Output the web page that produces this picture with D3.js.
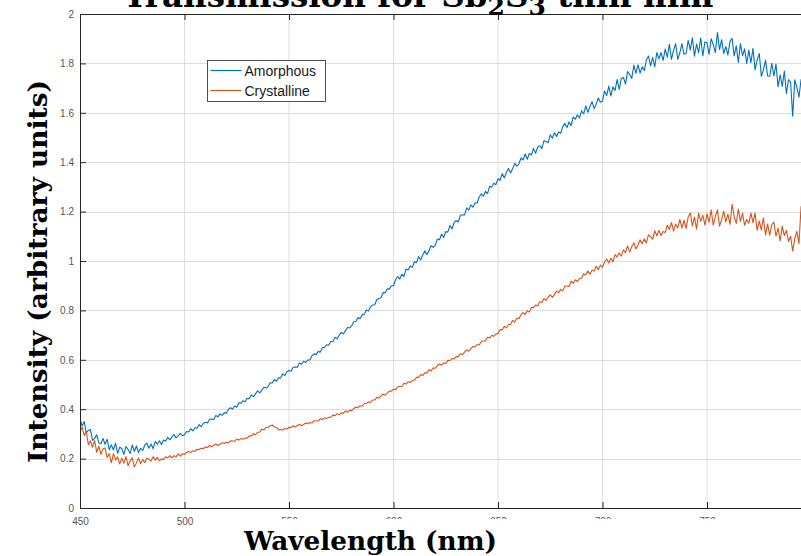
<!DOCTYPE html>
<html>
<head>
<meta charset="utf-8">
<script src="https://cdn.jsdelivr.net/npm/d3@7"></script>
<style>
    body { margin: 0; background: #fff; }
</style>
</head>
<body>
<script>
// wavelength grid of the samples (nm), one row = 10 nm
const wlStart = 450;
const wlStep = 1;

const amorphous = [
    .362, .332, .35, .304, .314, .318, .274, .282, .296, .264,
    .26, .282, .258, .278, .236, .256, .235, .262, .221, .246,
    .241, .217, .249, .237, .221, .255, .229, .251, .225, .241,
    .233, .255, .263, .242, .259, .24, .27, .258, .272, .257,
    .275, .271, .286, .276, .288, .297, .284, .292, .302, .293,
    .297, .310, .308, .321, .312, .325, .323, .338, .329, .343,
    .347, .344, .359, .360, .358, .375, .369, .381, .375, .385,
    .384, .399, .406, .401, .413, .408, .426, .424, .434, .43,
    .444, .443, .458, .451, .463, .474, .466, .477, .489, .486,
    .492, .507, .506, .52, .513, .527, .527, .543, .536, .552,
    .557, .554, .57, .571, .57, .587, .582, .594, .589, .599,
    .599, .616, .624, .621, .634, .631, .65, .65, .661, .659,
    .674, .674, .691, .685, .699, .711, .705, .717, .731, .729,
    .737, .754, .755, .771, .766, .782, .784, .802, .797, .815,
    .822, .823, .843, .848, .851, .872, .871, .887, .886, .90,
    .90, .924, .937, .927, .947, .938, .968, .964, .98, .974,
    .997, .993, 1.018, 1.004, 1.024, 1.041, 1.026, 1.042, 1.062, 1.055,
    1.064, 1.089, 1.086, 1.109, 1.095, 1.119, 1.117, 1.144, 1.13, 1.156,
    1.164, 1.158, 1.185, 1.187, 1.186, 1.215, 1.206, 1.227, 1.218, 1.235,
    1.235, 1.259, 1.272, 1.262, 1.282, 1.273, 1.303, 1.299, 1.315, 1.309,
    1.333, 1.327, 1.354, 1.336, 1.358, 1.375, 1.356, 1.373, 1.395, 1.384,
    1.393, 1.417, 1.409, 1.433, 1.412, 1.435, 1.429, 1.456, 1.436, 1.462,
    1.467, 1.455, 1.487, 1.484, 1.479, 1.511, 1.497, 1.519, 1.504, 1.522,
    1.517, 1.545, 1.557, 1.54, 1.563, 1.548, 1.583, 1.574, 1.592, 1.579,
    1.608, 1.596, 1.628, 1.602, 1.626, 1.645, 1.617, 1.636, 1.66, 1.643,
    1.648, 1.688, 1.67, 1.708, 1.668, 1.705, 1.69, 1.735, 1.695, 1.738,
    1.743, 1.716, 1.767, 1.756, 1.739, 1.793, 1.76, 1.794, 1.761, 1.786,
    1.771, 1.814, 1.83, 1.79, 1.824, 1.786, 1.844, 1.818, 1.844, 1.812,
    1.858, 1.825, 1.877, 1.816, 1.853, 1.88, 1.816, 1.843, 1.88, 1.837,
    1.84, 1.893, 1.854, 1.904, 1.829, 1.878, 1.843, 1.904, 1.83, 1.887,
    1.884, 1.836, 1.90, 1.876, 1.844, 1.925, 1.856, 1.896, 1.84, 1.868,
    1.834, 1.889, 1.902, 1.83, 1.871, 1.804, 1.88, 1.831, 1.859, 1.80,
    1.854, 1.803, 1.861, 1.774, 1.813, 1.84, 1.748, 1.774, 1.813, 1.749,
    1.748, 1.80, 1.749, 1.797, 1.706, 1.754, 1.707, 1.769, 1.677, 1.734,
    1.724, 1.586, 1.734, 1.703, 1.663, 1.735, 1.668, 1.709, 1.642, 1.67
];

const crystalline = [
    .309, .327, .294, .309, .256, .272, .246, .273, .225, .25,
    .217, .24, .243, .204, .22, .183, .22, .195, .207, .178,
    .202, .181, .208, .171, .19, .203, .166, .182, .203, .179,
    .195, .184, .201, .197, .19, .208, .194, .205, .191, .199,
    .197, .207, .203, .212, .203, .212, .208, .219, .21, .22,
    .217, .225, .229, .225, .232, .229, .238, .237, .242, .24,
    .247, .245, .253, .248, .254, .259, .253, .258, .264, .261,
    .266, .263, .272, .271, .27, .279, .275, .281, .278, .283,
    .283, .292, .292, .301, .297, .306, .308, .319, .316, .327,
    .327, .333, .336, .328, .327, .316, .318, .316, .322, .319,
    .327, .325, .333, .328, .334, .339, .333, .338, .344, .341,
    .346, .344, .353, .353, .352, .362, .358, .365, .362, .367,
    .368, .376, .374, .382, .377, .385, .384, .393, .388, .396,
    .394, .403, .409, .406, .414, .412, .423, .423, .429, .428,
    .437, .437, .448, .445, .454, .461, .457, .465, .473, .473,
    .481, .479, .491, .492, .492, .505, .502, .511, .508, .516,
    .518, .529, .529, .54, .536, .547, .547, .56, .555, .567,
    .566, .577, .583, .579, .588, .585, .598, .597, .605, .603,
    .613, .613, .625, .621, .631, .64, .635, .644, .654, .652,
    .662, .66, .674, .676, .676, .691, .688, .699, .695, .704,
    .707, .722, .721, .736, .729, .743, .743, .759, .753, .769,
    .766, .782, .791, .784, .798, .793, .813, .811, .822, .818,
    .835, .832, .848, .84, .853, .863, .853, .864, .878, .872,
    .885, .879, .899, .899, .897, .918, .91, .924, .917, .929,
    .93, .948, .943, .96, .946, .963, .959, .979, .965, .984,
    .974, .997, 1.008, .992, 1.011, .996, 1.026, 1.017, 1.032, 1.02,
    1.045, 1.034, 1.061, 1.037, 1.058, 1.074, 1.049, 1.065, 1.086, 1.07,
    1.09, 1.073, 1.106, 1.099, 1.088, 1.123, 1.102, 1.124, 1.103, 1.119,
    1.115, 1.145, 1.128, 1.156, 1.121, 1.149, 1.134, 1.168, 1.133, 1.165,
    1.132, 1.179, 1.194, 1.142, 1.178, 1.13, 1.194, 1.16, 1.186, 1.145,
    1.191, 1.157, 1.207, 1.145, 1.181, 1.207, 1.141, 1.167, 1.202, 1.158,
    1.19, 1.148, 1.23, 1.181, 1.152, 1.21, 1.16, 1.194, 1.144, 1.168,
    1.153, 1.194, 1.155, 1.194, 1.124, 1.162, 1.126, 1.175, 1.105, 1.15,
    1.104, 1.147, 1.158, 1.101, 1.133, 1.081, 1.141, 1.103, 1.124, 1.079,
    1.10, 1.04, 1.09, 1.12, 1.07, 1.22, 1.11, 1.13, 1.10, 1.12
];

const seriesNames = ["Amorphous", "Crystalline"];
const seriesColors = ["#0072BD", "#D95319"];
const xTicks = [450, 500, 550, 600, 650, 700, 750];
const yTicks = [0, 0.2, 0.4, 0.6, 0.8, 1, 1.2, 1.4, 1.6, 1.8, 2];

const width = 801;
const height = 556;
const marginLeft = 80;
const marginTop = 14;
const plotBottom = 508;

const x = d3.scaleLinear()
    .domain([450, 800])
    .range([marginLeft, 811.5]);

const y = d3.scaleLinear()
    .domain([0, 2])
    .range([plotBottom, marginTop]);

const svg = d3.create("svg")
    .attr("width", width)
    .attr("height", height)
    .attr("viewBox", `0 0 ${width} ${height}`)
    .style("font-family", "'Liberation Sans', Arial, sans-serif");

svg.append("defs").append("clipPath")
    .attr("id", "plotclip")
    .append("rect")
    .attr("x", marginLeft)
    .attr("y", marginTop)
    .attr("width", x(800) - marginLeft)
    .attr("height", plotBottom - marginTop);

// grid
svg.append("g")
    .selectAll("line")
    .data(xTicks.slice(1))
    .join("line")
    .attr("x1", d => x(d)).attr("x2", d => x(d))
    .attr("y1", marginTop).attr("y2", plotBottom)
    .attr("stroke", "#dedede")
    .attr("stroke-width", 1);

svg.append("g")
    .selectAll("line")
    .data(yTicks.slice(1, -1))
    .join("line")
    .attr("x1", marginLeft).attr("x2", width)
    .attr("y1", d => Math.round(y(d)) + 0.5).attr("y2", d => Math.round(y(d)) + 0.5)
    .attr("stroke", "#dedede")
    .attr("stroke-width", 1);

// curves
const line = d3.line()
    .x((d, i) => x(wlStart + i * wlStep))
    .y(d => y(d));

const plot = svg.append("g").attr("clip-path", "url(#plotclip)");

[amorphous, crystalline].forEach((vals, k) => {
    plot.append("path")
        .datum(vals)
        .attr("fill", "none")
        .attr("stroke", seriesColors[k])
        .attr("stroke-width", 1.1)
        .attr("stroke-linejoin", "round")
        .attr("d", line);
});

// axes (MATLAB box style, ticks inside)
const axisColor = "#262626";
const labelColor = "#555";

const axBottom = svg.append("g")
    .attr("transform", `translate(0,${plotBottom})`)
    .call(d3.axisBottom(x).tickValues(xTicks).tickSizeInner(-6).tickSizeOuter(0).tickPadding(10));
const axTop = svg.append("g")
    .attr("transform", `translate(0,${marginTop})`)
    .call(d3.axisTop(x).tickValues(xTicks).tickSizeInner(-6).tickSizeOuter(0).tickFormat(""));
const axLeft = svg.append("g")
    .attr("transform", `translate(${marginLeft},0)`)
    .call(d3.axisLeft(y).tickValues(yTicks).tickSizeInner(-6).tickSizeOuter(0).tickPadding(6).tickFormat(d3.format("~g")));

[axBottom, axTop, axLeft].forEach(g => {
    g.select(".domain").attr("stroke", axisColor);
    g.selectAll(".tick line").attr("stroke", axisColor);
    g.selectAll(".tick text")
        .attr("fill", labelColor)
        .style("font-size", "10px")
        .style("font-family", "'Liberation Sans', Arial, sans-serif");
});
axBottom.select(".domain").attr("d", `M${marginLeft},0.5H${width}`);
axTop.select(".domain").attr("d", `M${marginLeft},0.5H${width}`);

// legend
const legend = svg.append("g").attr("transform", "translate(207.5,60.5)");
legend.append("rect")
    .attr("width", 118)
    .attr("height", 41)
    .attr("fill", "#fff")
    .attr("stroke", axisColor)
    .attr("stroke-width", 0.8);
seriesNames.forEach((name, i) => {
    legend.append("line")
        .attr("x1", 3).attr("x2", 34)
        .attr("y1", 10 + i * 20).attr("y2", 10 + i * 20)
        .attr("stroke", seriesColors[i])
        .attr("stroke-width", 1.2);
    legend.append("text")
        .attr("x", 37)
        .attr("y", 15 + i * 20)
        .attr("fill", "#1a1a1a")
        .style("font-size", "14px")
        .text(name);
});

// x label box hides the lower part of the tick labels
svg.append("rect")
    .attr("x", 238)
    .attr("y", 519)
    .attr("width", width - 238)
    .attr("height", height - 519)
    .attr("fill", "#fff");

const serif = "'DejaVu Serif', 'Liberation Serif', serif";

svg.append("text")
    .attr("x", 244)
    .attr("y", 550)
    .attr("textLength", 253)
    .attr("lengthAdjust", "spacingAndGlyphs")
    .style("font-family", serif)
    .style("font-weight", "bold")
    .style("font-size", "26px")
    .attr("fill", "#000")
    .text("Wavelength (nm)");

svg.append("text")
    .attr("transform", "translate(47,463) rotate(-90)")
    .attr("textLength", 383)
    .attr("lengthAdjust", "spacingAndGlyphs")
    .style("font-family", serif)
    .style("font-weight", "bold")
    .style("font-size", "26px")
    .attr("fill", "#000")
    .text("Intensity (arbitrary units)");

// title, mostly above the visible area (as in the reference)
const title = svg.append("text")
    .attr("x", 123)
    .attr("y", 7)
    .style("font-family", serif)
    .style("font-weight", "bold")
    .style("font-size", "32.5px")
    .attr("fill", "#000");
title.append("tspan").text("Transmission for Sb");
title.append("tspan").attr("dy", 8).style("font-size", "25px").text("2");
title.append("tspan").attr("dy", -8).text("S");
title.append("tspan").attr("dy", 8).style("font-size", "25px").text("3");
title.append("tspan").attr("dy", -8).text(" thin film");

document.body.appendChild(svg.node());
</script>
</body>
</html>
